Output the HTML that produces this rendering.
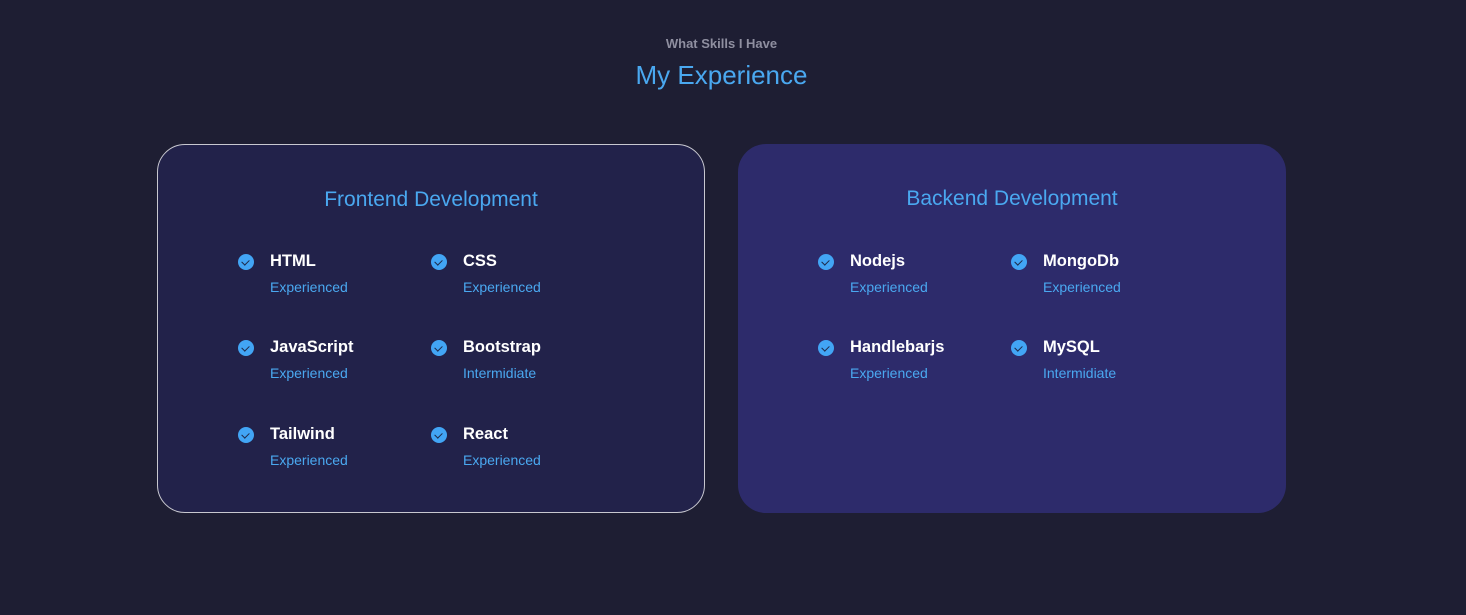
<!DOCTYPE html>
<html><head><style>
body{margin:0;width:1466px;height:615px;background:#1e1e33;font-family:"Liberation Sans",sans-serif;position:relative;overflow:hidden}
.t{position:absolute;white-space:nowrap}
.card{position:absolute;top:144px;width:548px;height:369px;border-radius:28px;box-sizing:border-box}
.h{font-size:21px;color:#4aa8f0;width:100%;text-align:center;top:43px;position:absolute}
.it{position:absolute}
.ic{position:absolute;left:-32px;width:16px;height:16px;border-radius:50%;background:#42a5f5;top:2px}
.ic:after{content:"";position:absolute;left:5px;top:4px;width:4px;height:6px;border:solid #1e2a4a;border-width:0 1.5px 1.5px 0;transform:rotate(45deg)}
.n{font-size:16.5px;font-weight:bold;color:#fff;position:absolute;white-space:nowrap;top:0}
.s{font-size:14px;color:#4aa8f0;position:absolute;white-space:nowrap;top:27px}
</style></head><body>
<div class="t" style="left:0;width:1443px;text-align:center;top:36px;font-size:13px;font-weight:bold;color:#8f8fa0">What Skills I Have</div>
<div class="t" style="left:0;width:1443px;text-align:center;top:60px;font-size:26px;color:#4aa8f0">My Experience</div>

<div class="card" style="left:157px;background:#22224a;border:1px solid #c8c8d0">
<div class="h">Frontend Development</div>
<div class="it" style="left:112px;top:107px"><div class="ic"></div><div class="n">HTML</div><div class="s">Experienced</div></div>
<div class="it" style="left:305px;top:107px"><div class="ic"></div><div class="n">CSS</div><div class="s">Experienced</div></div>
<div class="it" style="left:112px;top:193px"><div class="ic"></div><div class="n">JavaScript</div><div class="s">Experienced</div></div>
<div class="it" style="left:305px;top:193px"><div class="ic"></div><div class="n">Bootstrap</div><div class="s">Intermidiate</div></div>
<div class="it" style="left:112px;top:280px"><div class="ic"></div><div class="n">Tailwind</div><div class="s">Experienced</div></div>
<div class="it" style="left:305px;top:280px"><div class="ic"></div><div class="n">React</div><div class="s">Experienced</div></div>
</div>

<div class="card" style="left:738px;background:#2d2b6b">
<div class="h">Backend Development</div>
<div class="it" style="left:112px;top:108px"><div class="ic"></div><div class="n">Nodejs</div><div class="s">Experienced</div></div>
<div class="it" style="left:305px;top:108px"><div class="ic"></div><div class="n">MongoDb</div><div class="s">Experienced</div></div>
<div class="it" style="left:112px;top:194px"><div class="ic"></div><div class="n">Handlebarjs</div><div class="s">Experienced</div></div>
<div class="it" style="left:305px;top:194px"><div class="ic"></div><div class="n">MySQL</div><div class="s">Intermidiate</div></div>
</div>
</body></html>
